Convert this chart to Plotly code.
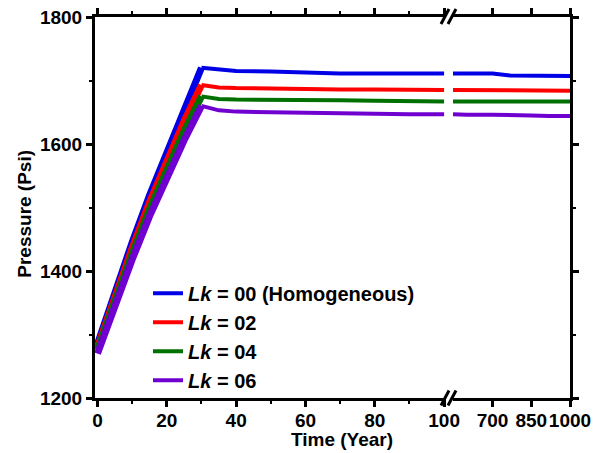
import plotly.graph_objects as go

# ---- data ----
series_names = ["<i>Lk</i> = 00 (Homogeneous)", "<i>Lk</i> = 02", "<i>Lk</i> = 04", "<i>Lk</i> = 06"]
series_colors = ["#0000e6", "#ff0000", "#007000", "#7000d0"]

t_rise = [0, 5, 10, 15, 20, 25, 30]
t_plateau = [30, 35, 40, 50, 60, 70, 80, 90, 100]
t_late = [547, 600, 700, 768, 850, 918, 1000]

rise_00 = [1285, 1367, 1445, 1519, 1588, 1655, 1720]
rise_02 = [1280, 1360, 1436, 1508, 1575, 1636, 1693]
rise_04 = [1276, 1353, 1427, 1497, 1561, 1620, 1675]
rise_06 = [1270, 1345, 1418, 1486, 1548, 1606, 1660]

plat_00 = [1720, 1717, 1715, 1714, 1712, 1711, 1711, 1711, 1711]
plat_02 = [1693, 1689, 1688, 1687, 1687, 1686, 1686, 1686, 1685]
plat_04 = [1675, 1671, 1670, 1670, 1669, 1669, 1668, 1667, 1667]
plat_06 = [1660, 1653, 1651, 1650, 1649, 1649, 1648, 1647, 1647]

late_00 = [1711, 1711, 1711, 1708, 1708, 1707, 1707]
late_02 = [1685, 1685, 1684, 1684, 1684, 1684, 1684]
late_04 = [1667, 1667, 1667, 1667, 1667, 1667, 1667]
late_06 = [1647, 1646, 1646, 1646, 1645, 1644, 1644]

rises = [rise_00, rise_02, rise_04, rise_06]
plats = [plat_00, plat_02, plat_04, plat_06]
lates = [late_00, late_02, late_04, late_06]

x_left_ticks = [0, 20, 40, 60, 80, 100]
x_right_ticks = [700, 850, 1000]
y_ticks = [1200, 1400, 1600, 1800]

# ---- figure ----
W, H = 601, 453
ML, MR, MT, MB = 95, 31, 17, 54.5
PW = W - ML - MR
PH = H - MT - MB

def px_x(x):
    return (x - ML) / PW

def px_y(y):
    return 1 - (y - MT) / PH

FONT = "Liberation Sans, Arial, sans-serif"

fig = go.Figure()
for name, col, r, p, l in zip(series_names, series_colors, rises, plats, lates):
    fig.add_trace(go.Scatter(x=t_rise, y=r, mode="lines", line=dict(color=col, width=7),
                             showlegend=False, xaxis="x", yaxis="y", hoverinfo="skip"))
    fig.add_trace(go.Scatter(x=t_plateau, y=p, mode="lines", line=dict(color=col, width=4),
                             name=name, xaxis="x", yaxis="y"))
    fig.add_trace(go.Scatter(x=t_late, y=l, mode="lines", line=dict(color=col, width=4),
                             showlegend=False, xaxis="x2", yaxis="y2"))

tickfont = dict(family=FONT, size=19, color="black", weight="bold")
common_axis = dict(showgrid=False, zeroline=False, showline=True, linecolor="black",
                   linewidth=3, ticks="outside", ticklen=6, tickwidth=3, tickcolor="black",
                   tickfont=tickfont, automargin=False, tickangle=0)

fig.update_layout(
    width=W, height=H,
    margin=dict(l=ML, r=MR, t=MT, b=MB),
    plot_bgcolor="white", paper_bgcolor="white",
    xaxis=dict(domain=[0, px_x(446)], range=[-0.72, 100.55], tickvals=x_left_ticks,
               mirror="allticks", anchor="y", ticklabelstandoff=-3,
               minor=dict(dtick=10, tick0=0, ticklen=3, tickwidth=2, tickcolor="black", ticks="outside"),
               **common_axis),
    xaxis2=dict(domain=[px_x(453), 1], range=[547, 1000], tickvals=x_right_ticks,
                mirror="allticks", anchor="y2", ticklabelstandoff=-3, **common_axis),
    yaxis=dict(range=[1200, 1800], tickvals=y_ticks, anchor="x",
               minor=dict(dtick=100, tick0=1200, ticklen=3, tickwidth=2, tickcolor="black", ticks="outside"),
               **common_axis),
    yaxis2=dict(range=[1200, 1800], tickvals=y_ticks, anchor="x2", side="right",
                matches="y", showticklabels=False,
                minor=dict(dtick=100, tick0=1200, ticklen=3, tickwidth=2, tickcolor="black", ticks="outside"),
                **common_axis),
    legend=dict(x=px_x(148), y=px_y(274), xanchor="left", yanchor="top",
                bgcolor="rgba(0,0,0,0)", tracegroupgap=0,
                font=dict(family=FONT, size=20, color="black", weight="bold")),
    showlegend=True,
)

# axis titles
fig.add_annotation(text="Time (Year)", xref="paper", yref="paper", x=px_x(341.5), y=px_y(440),
                   xanchor="center", yanchor="middle", showarrow=False,
                   font=dict(family=FONT, size=19, color="black", weight="bold"))
fig.add_annotation(text="Pressure (Psi)", xref="paper", yref="paper", x=px_x(25), y=px_y(214),
                   xanchor="center", yanchor="middle", textangle=-90, showarrow=False,
                   font=dict(family=FONT, size=19, color="black", weight="bold"))

# axis-break marks
for ybot, ytop in [(406, 391), (24, 9)]:
    for x0 in (441, 448):
        fig.add_shape(type="line", xref="paper", yref="paper",
                      x0=px_x(x0), y0=px_y(ybot), x1=px_x(x0 + 8), y1=px_y(ytop),
                      line=dict(color="black", width=3))

fig.write_html("out.html")
